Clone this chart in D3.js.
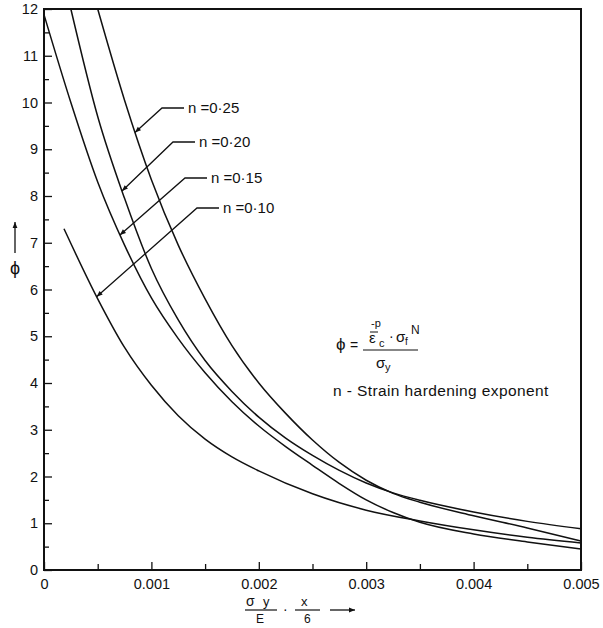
<!DOCTYPE html>
<html>
<head>
<meta charset="utf-8">
<script src="https://cdn.jsdelivr.net/npm/d3@7"></script>
<style>
  body { margin: 0; background: #fff; }
  svg text { font-family: "Liberation Sans", Arial, sans-serif; fill: #111; }
</style>
</head>
<body>
<svg id="chart" width="603" height="628"></svg>
<script>
// values: [x, phi]
var n10 = [[0.000186,7.30],[0.0005,5.80],[0.00075,4.76],[0.001,3.95],[0.00125,3.30],[0.0015,2.80],
           [0.00175,2.42],[0.002,2.12],[0.0025,1.63],[0.003,1.28],[0.0035,1.05],[0.004,0.86],
           [0.0045,0.70],[0.005,0.58]];
var n15 = [[0,11.88],[0.00025,10.0],[0.0005,8.3],[0.00075,6.95],[0.001,5.82],[0.00125,4.95],
           [0.0015,4.22],[0.00175,3.6],[0.002,3.08],[0.00225,2.64],[0.0025,2.24],[0.00275,1.85],
           [0.003,1.50],[0.00325,1.23],[0.0035,1.02],[0.004,0.77],[0.0045,0.60],[0.005,0.45]];
var n20 = [[0.00025,12.0],[0.0005,9.7],[0.00075,7.95],[0.001,6.45],[0.00125,5.35],[0.0015,4.48],
           [0.00175,3.82],[0.002,3.27],[0.00225,2.82],[0.0025,2.45],[0.00275,2.13],[0.003,1.86],
           [0.00325,1.65],[0.0035,1.49],[0.004,1.24],[0.0045,1.04],[0.005,0.88]];
var n25 = [[0.0005,12.0],[0.00075,10.05],[0.001,8.35],[0.00125,6.95],[0.0015,5.8],[0.00175,4.8],
           [0.002,4.0],[0.00225,3.35],[0.0025,2.78],[0.00275,2.30],[0.003,1.92],[0.00325,1.64],
           [0.0035,1.45],[0.004,1.16],[0.0045,0.90],[0.005,0.62]];

var labels = ["n =0·25", "n =0·20", "n =0·15", "n =0·10"];
var series = [n25, n20, n15, n10];
var tipX = [0.000847, 0.000726, 0.000707, 0.00049];   // where each leader arrow touches its curve

var xTicks = [0, 0.001, 0.002, 0.003, 0.004, 0.005];
var xTickLabels = ["0", "0.001", "0.002", "0.003", "0.004", "0.005"];
var xMinor = [0.0005, 0.0015, 0.0025, 0.0035, 0.0045];
var yTicks = [0,1,2,3,4,5,6,7,8,9,10,11,12];
var yMinor = [0.5,1.5,2.5,3.5,4.5,5.5,6.5,7.5,8.5,9.5,10.5,11.5];

var svg = d3.select("#chart");
var pLeft = 44, pRight = 581, pTop = 9, pBottom = 570;

var x = d3.scaleLinear().domain([0, 0.005]).range([pLeft, pRight]);
var y = d3.scaleLinear().domain([0, 12]).range([pBottom, pTop]);

svg.append("defs").append("marker")
  .attr("id", "arr").attr("viewBox", "0 0 10 10").attr("refX", 10).attr("refY", 5)
  .attr("markerWidth", 9).attr("markerHeight", 6).attr("markerUnits", "userSpaceOnUse")
  .attr("orient", "auto")
  .append("path").attr("d", "M0,1 L10,5 L0,9 Z").attr("fill", "#111");

// axes with inward ticks
var xAxis = svg.append("g").attr("transform", "translate(0," + pBottom + ")")
  .call(d3.axisBottom(x).tickValues(xTicks).tickSize(-8).tickPadding(7)
    .tickFormat(function(d, i){ return xTickLabels[i]; }));
svg.append("g").attr("transform", "translate(0," + pBottom + ")")
  .call(d3.axisBottom(x).tickValues(xMinor).tickSize(-6).tickFormat(""));
var yAxis = svg.append("g").attr("transform", "translate(" + pLeft + ",0)")
  .call(d3.axisLeft(y).tickValues(yTicks).tickSize(-8).tickPadding(6));
svg.append("g").attr("transform", "translate(" + pLeft + ",0)")
  .call(d3.axisLeft(y).tickValues(yMinor).tickSize(-5).tickFormat(""));

svg.selectAll(".domain").remove();
svg.selectAll(".tick line").attr("stroke", "#111").attr("stroke-width", 1.3);
svg.selectAll(".tick text").attr("font-size", 14.5).attr("fill", "#111");
xAxis.selectAll(".tick text").attr("dy", "0.85em");

svg.append("rect").attr("x", pLeft).attr("y", pTop)
  .attr("width", pRight - pLeft).attr("height", pBottom - pTop)
  .attr("fill", "none").attr("stroke", "#111").attr("stroke-width", 2);

var line = d3.line().x(function(d){ return x(d[0]); }).y(function(d){ return y(d[1]); })
  .curve(d3.curveMonotoneX);

var paths = svg.append("g").selectAll("path").data(series).enter().append("path")
  .attr("d", line).attr("fill", "none").attr("stroke", "#111").attr("stroke-width", 1.5);

// find the point of a drawn curve at a given pixel x
function pointAtX(node, px){
  var lo = 0, hi = node.getTotalLength(), p;
  for (var k = 0; k < 40; k++) {
    var mid = (lo + hi) / 2;
    p = node.getPointAtLength(mid);
    if (p.x < px) lo = mid; else hi = mid;
  }
  return p;
}

// leader lines and labels
var labelPos = [[162, 108], [173, 142], [185, 178], [197, 208]];
labels.forEach(function(t, i){
  var tip = pointAtX(paths.nodes()[i], x(tipX[i]));
  var lx = labelPos[i][0], ly = labelPos[i][1];
  svg.append("path")
    .attr("d", "M" + (lx + 22) + "," + ly + " L" + lx + "," + ly + " L" + tip.x + "," + tip.y)
    .attr("fill", "none").attr("stroke", "#111").attr("stroke-width", 1.3)
    .attr("marker-end", "url(#arr)");
  svg.append("text").attr("x", lx + 26).attr("y", ly + 5).attr("font-size", 15).text(t);
});

// formula
var f = svg.append("g");
f.append("text").attr("x", 336).attr("y", 350).attr("font-size", 17).text("ϕ");
f.append("text").attr("x", 350).attr("y", 350).attr("font-size", 14).text("=");
f.append("text").attr("x", 369).attr("y", 343).attr("font-size", 15).text("ε");
f.append("text").attr("x", 371).attr("y", 327).attr("font-size", 11).text("-p");
f.append("line").attr("x1", 370).attr("x2", 378).attr("y1", 332).attr("y2", 332).attr("stroke", "#111");
f.append("text").attr("x", 379).attr("y", 347).attr("font-size", 11).text("c");
f.append("text").attr("x", 389).attr("y", 341).attr("font-size", 14).text("·");
f.append("text").attr("x", 396).attr("y", 342).attr("font-size", 15).text("σ");
f.append("text").attr("x", 405).attr("y", 345).attr("font-size", 10).text("f");
f.append("text").attr("x", 411).attr("y", 334).attr("font-size", 12).text("N");
f.append("line").attr("x1", 363).attr("x2", 418).attr("y1", 350).attr("y2", 350).attr("stroke", "#111").attr("stroke-width", 1.2);
f.append("text").attr("x", 376).attr("y", 368).attr("font-size", 15).text("σ");
f.append("text").attr("x", 385).attr("y", 371).attr("font-size", 11).text("y");
svg.append("text").attr("x", 333).attr("y", 396).attr("font-size", 15.5)
  .attr("letter-spacing", 0.4).text("n - Strain hardening exponent");

// x axis title
var xt = svg.append("g");
xt.append("text").attr("x", 246).attr("y", 606).attr("font-size", 14).text("σ");
xt.append("text").attr("x", 263).attr("y", 606).attr("font-size", 13).text("y");
xt.append("line").attr("x1", 245).attr("x2", 277).attr("y1", 610).attr("y2", 610).attr("stroke", "#111").attr("stroke-width", 1.2);
xt.append("text").attr("x", 256).attr("y", 623).attr("font-size", 12).text("E");
xt.append("text").attr("x", 283).attr("y", 614).attr("font-size", 14).text("·");
xt.append("text").attr("x", 301).attr("y", 606).attr("font-size", 13).text("x");
xt.append("line").attr("x1", 295).attr("x2", 320).attr("y1", 610).attr("y2", 610).attr("stroke", "#111").attr("stroke-width", 1.2);
xt.append("text").attr("x", 304).attr("y", 623).attr("font-size", 12).text("6");
xt.append("line").attr("x1", 330).attr("x2", 355).attr("y1", 610).attr("y2", 610)
  .attr("stroke", "#111").attr("stroke-width", 1.3).attr("marker-end", "url(#arr)");

// y axis title
svg.append("text").attr("x", 15).attr("y", 274).attr("font-size", 18)
  .attr("text-anchor", "middle").text("ϕ");
svg.append("line").attr("x1", 15).attr("x2", 15).attr("y1", 253).attr("y2", 222)
  .attr("stroke", "#111").attr("stroke-width", 1.3).attr("marker-end", "url(#arr)");
</script>
</body>
</html>
